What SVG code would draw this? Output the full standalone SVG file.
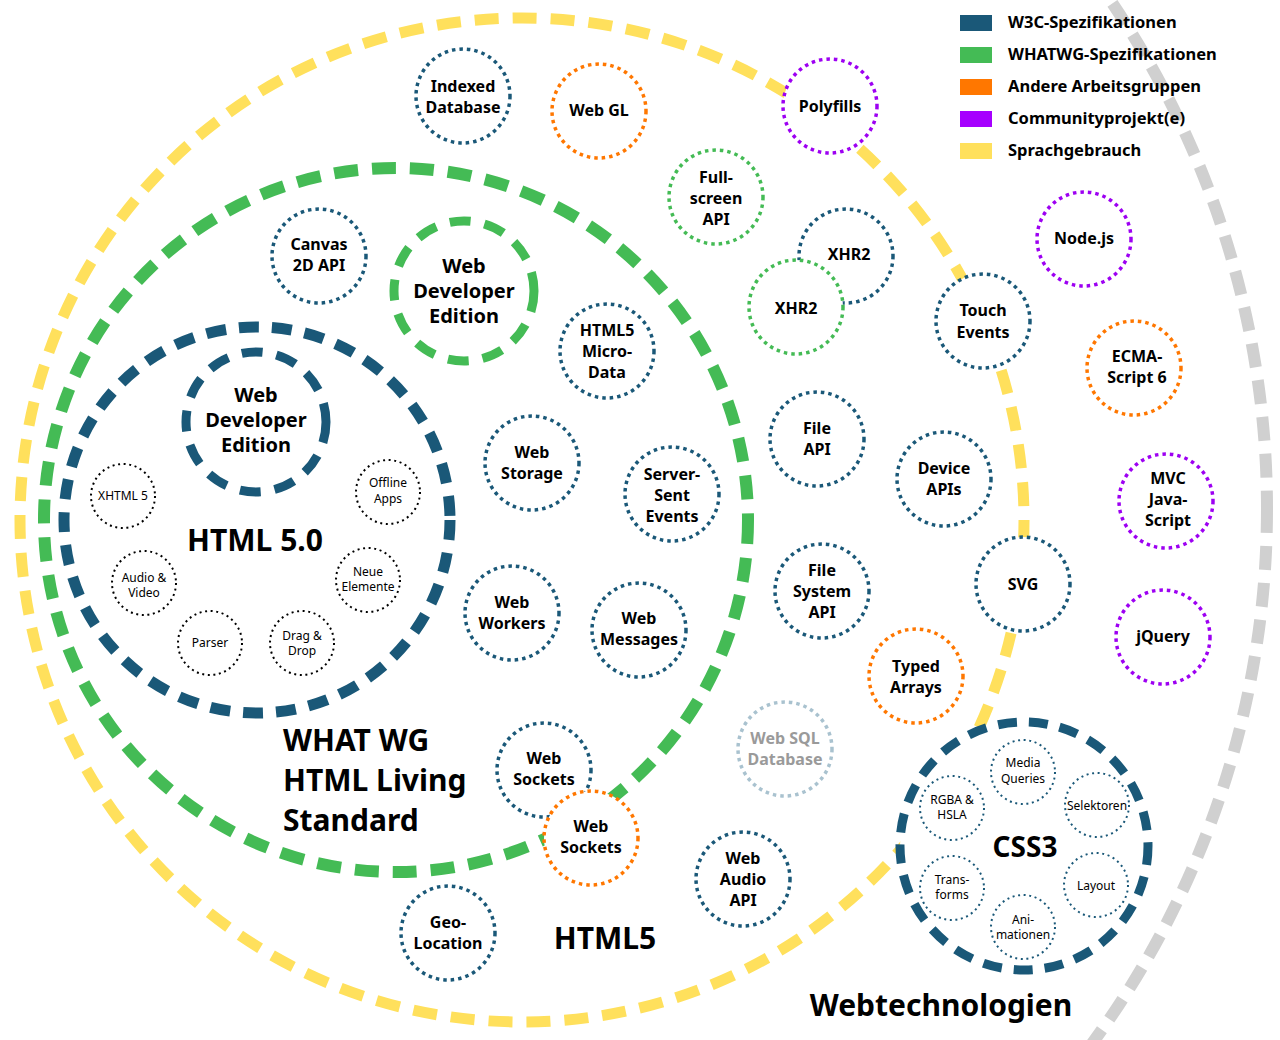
<svg xmlns="http://www.w3.org/2000/svg" width="1280" height="1040" viewBox="0 0 1280 1040">
<style>
text{font-family:"Noto Sans","Open Sans","DejaVu Sans",sans-serif;fill:#000;text-anchor:middle}
.b{font-weight:bold;font-size:16px}
.m{font-weight:bold;font-size:20px}
.L{font-weight:bold;font-size:30px}
.s{font-size:12px}
.lg{font-weight:bold;font-size:16.5px;text-anchor:start}
.big{fill:none}
.dot{fill:#fff;stroke-width:3.5;stroke-dasharray:3.5 4}
.sd{fill:#fff;stroke-width:2;stroke-dasharray:2 3.6}
.w3c{stroke:#1a5878}
.wg{stroke:#44bb55}
.oth{stroke:#ff7700}
.com{stroke:#9d00f2}
.sql{stroke:#a9c2cf}
.blk{stroke:#000}
</style>
<g id="connectors">
<circle id="ring-webtech" class="big" cx="363" cy="509" r="904" stroke="#d0d0d0" stroke-width="12" stroke-dasharray="24 13"/>
<circle id="ring-html5" class="big" cx="522" cy="520" r="502" stroke="#ffe05c" stroke-width="11" stroke-dasharray="24 14"/>
<circle id="ring-whatwg" class="big" cx="396" cy="520" r="352" stroke="#44bb55" stroke-width="12" stroke-dasharray="24 14"/>
<circle id="ring-html50" class="big" cx="257" cy="520" r="193" stroke="#1a5878" stroke-width="11" stroke-dasharray="20 13"/>
</g>
<g id="legend">
<rect x="960" y="15" width="32" height="16" fill="#1a5878"/>
<rect x="960" y="47" width="32" height="16" fill="#44bb55"/>
<rect x="960" y="79" width="32" height="16" fill="#ff7700"/>
<rect x="960" y="111" width="32" height="16" fill="#a600ff"/>
<rect x="960" y="143" width="32" height="16" fill="#ffe05c"/>
<text class="lg" x="1008" y="28">W3C-Spezifikationen</text>
<text class="lg" x="1008" y="60">WHATWG-Spezifikationen</text>
<text class="lg" x="1008" y="92">Andere Arbeitsgruppen</text>
<text class="lg" x="1008" y="124">Communityprojekt(e)</text>
<text class="lg" x="1008" y="156">Sprachgebrauch</text>
</g>
<g id="labels-rings">
<text class="L" x="255" y="551">HTML 5.0</text>
<text class="L" x="283" y="751" style="text-anchor:start">WHAT WG</text>
<text class="L" x="283" y="791" style="text-anchor:start">HTML Living</text>
<text class="L" x="283" y="831" style="text-anchor:start">Standard</text>
<text class="L" x="605" y="949">HTML5</text>
<text class="L" x="941" y="1016">Webtechnologien</text>
</g>
<g id="wde-w3c">
<circle cx="256" cy="422" r="70" fill="#fff" stroke="#1a5878" stroke-width="9" stroke-dasharray="21 14"/>
<text class="m" x="256" y="402">Web</text><text class="m" x="256" y="427">Developer</text><text class="m" x="256" y="452">Edition</text>
</g>
<g id="wde-whatwg">
<circle cx="464" cy="291" r="70" fill="#fff" stroke="#44bb55" stroke-width="9" stroke-dasharray="21 14"/>
<text class="m" x="464" y="273">Web</text><text class="m" x="464" y="298">Developer</text><text class="m" x="464" y="323">Edition</text>
</g>
<g id="xhtml5"><circle class="sd blk" cx="123" cy="496" r="32"/><text class="s" x="123" y="500">XHTML 5</text></g>
<g id="offline"><circle class="sd blk" cx="388" cy="492" r="32"/><text class="s" x="388" y="487">Offline</text><text class="s" x="388" y="503">Apps</text></g>
<g id="audio"><circle class="sd blk" cx="144" cy="583" r="32"/><text class="s" x="144" y="582">Audio &amp;</text><text class="s" x="144" y="597">Video</text></g>
<g id="neue"><circle class="sd blk" cx="368" cy="580" r="32"/><text class="s" x="368" y="576">Neue</text><text class="s" x="368" y="591">Elemente</text></g>
<g id="parser"><circle class="sd blk" cx="210" cy="643" r="32"/><text class="s" x="210" y="647">Parser</text></g>
<g id="dragdrop"><circle class="sd blk" cx="302" cy="643" r="32"/><text class="s" x="302" y="640">Drag &amp;</text><text class="s" x="302" y="655">Drop</text></g>
<g id="indexeddb"><circle class="dot w3c" cx="463" cy="96" r="47"/><text class="b" x="463" y="92">Indexed</text><text class="b" x="463" y="113">Database</text></g>
<g id="webgl"><circle class="dot oth" cx="599" cy="111" r="47"/><text class="b" x="599" y="116">Web GL</text></g>
<g id="polyfills"><circle class="dot com" cx="830" cy="106" r="47"/><text class="b" x="830" y="112">Polyfills</text></g>
<g id="fullscreen"><circle class="dot wg" cx="716" cy="197" r="47"/><text class="b" x="716" y="183">Full-</text><text class="b" x="716" y="204">screen</text><text class="b" x="716" y="225">API</text></g>
<g id="xhr2-w3c"><circle class="dot w3c" cx="846" cy="256" r="47"/><text class="b" x="849" y="260">XHR2</text></g>
<g id="xhr2-wg"><circle class="dot wg" cx="796" cy="307" r="47"/><text class="b" x="796" y="314">XHR2</text></g>
<g id="nodejs"><circle class="dot com" cx="1084" cy="239" r="47"/><text class="b" x="1084" y="244">Node.js</text></g>
<g id="touch"><circle class="dot w3c" cx="983" cy="321" r="47"/><text class="b" x="983" y="316">Touch</text><text class="b" x="983" y="338">Events</text></g>
<g id="ecma"><circle class="dot oth" cx="1134" cy="368" r="47"/><text class="b" x="1137" y="362">ECMA-</text><text class="b" x="1137" y="383">Script 6</text></g>
<g id="canvas"><circle class="dot w3c" cx="319" cy="256" r="47"/><text class="b" x="319" y="250">Canvas</text><text class="b" x="319" y="271">2D API</text></g>
<g id="microdata"><circle class="dot w3c" cx="607" cy="351" r="47"/><text class="b" x="607" y="336">HTML5</text><text class="b" x="607" y="357">Micro-</text><text class="b" x="607" y="378">Data</text></g>
<g id="storage"><circle class="dot w3c" cx="532" cy="463" r="47"/><text class="b" x="532" y="458">Web</text><text class="b" x="532" y="479">Storage</text></g>
<g id="sse"><circle class="dot w3c" cx="672" cy="494" r="47"/><text class="b" x="672" y="480">Server-</text><text class="b" x="672" y="501">Sent</text><text class="b" x="672" y="522">Events</text></g>
<g id="fileapi"><circle class="dot w3c" cx="817" cy="439" r="47"/><text class="b" x="817" y="434">File</text><text class="b" x="817" y="455">API</text></g>
<g id="device"><circle class="dot w3c" cx="944" cy="479" r="47"/><text class="b" x="944" y="474">Device</text><text class="b" x="944" y="495">APIs</text></g>
<g id="mvc"><circle class="dot com" cx="1166" cy="501" r="47"/><text class="b" x="1168" y="484">MVC</text><text class="b" x="1168" y="505">Java-</text><text class="b" x="1168" y="526">Script</text></g>
<g id="workers"><circle class="dot w3c" cx="512" cy="613" r="47"/><text class="b" x="512" y="608">Web</text><text class="b" x="512" y="629">Workers</text></g>
<g id="messages"><circle class="dot w3c" cx="639" cy="630" r="47"/><text class="b" x="639" y="624">Web</text><text class="b" x="639" y="645">Messages</text></g>
<g id="filesystem"><circle class="dot w3c" cx="822" cy="591" r="47"/><text class="b" x="822" y="576">File</text><text class="b" x="822" y="597">System</text><text class="b" x="822" y="618">API</text></g>
<g id="svg"><circle class="dot w3c" cx="1023" cy="584" r="47"/><text class="b" x="1023" y="590">SVG</text></g>
<g id="jquery"><circle class="dot com" cx="1163" cy="637" r="47"/><text class="b" x="1163" y="642">jQuery</text></g>
<g id="typed"><circle class="dot oth" cx="916" cy="676" r="47"/><text class="b" x="916" y="672">Typed</text><text class="b" x="916" y="693">Arrays</text></g>
<g id="websql"><circle class="dot sql" cx="785" cy="749" r="47"/><text class="b" x="785" y="744" style="fill:#9a9a9a">Web SQL</text><text class="b" x="785" y="765" style="fill:#9a9a9a">Database</text></g>
<g id="sockets-w3c"><circle class="dot w3c" cx="544" cy="770" r="47"/><text class="b" x="544" y="764">Web</text><text class="b" x="544" y="785">Sockets</text></g>
<g id="sockets-oth"><circle class="dot oth" cx="591" cy="838" r="47"/><text class="b" x="591" y="832">Web</text><text class="b" x="591" y="853">Sockets</text></g>
<g id="audioapi"><circle class="dot w3c" cx="743" cy="879" r="47"/><text class="b" x="743" y="864">Web</text><text class="b" x="743" y="885">Audio</text><text class="b" x="743" y="906">API</text></g>
<g id="geo"><circle class="dot w3c" cx="448" cy="933" r="47"/><text class="b" x="448" y="928">Geo-</text><text class="b" x="448" y="949">Location</text></g>
<g id="css3">
<circle cx="1024" cy="846" r="124" fill="#fff" stroke="#1a5878" stroke-width="9" stroke-dasharray="19 12"/>
<text x="1025" y="857" style="font-weight:bold;font-size:28px">CSS3</text>
</g>
<g id="media"><circle class="sd w3c" cx="1023" cy="772" r="32"/><text class="s" x="1023" y="767">Media</text><text class="s" x="1023" y="783">Queries</text></g>
<g id="rgba"><circle class="sd w3c" cx="952" cy="808" r="32"/><text class="s" x="952" y="804">RGBA &amp;</text><text class="s" x="952" y="819">HSLA</text></g>
<g id="selektoren"><circle class="sd w3c" cx="1097" cy="805" r="32"/><text class="s" x="1097" y="810">Selektoren</text></g>
<g id="transforms"><circle class="sd w3c" cx="952" cy="888" r="32"/><text class="s" x="952" y="884">Trans-</text><text class="s" x="952" y="899">forms</text></g>
<g id="layout"><circle class="sd w3c" cx="1096" cy="885" r="32"/><text class="s" x="1096" y="890">Layout</text></g>
<g id="animationen"><circle class="sd w3c" cx="1023" cy="927" r="32"/><text class="s" x="1023" y="924">Ani-</text><text class="s" x="1023" y="939">mationen</text></g>
</svg>
